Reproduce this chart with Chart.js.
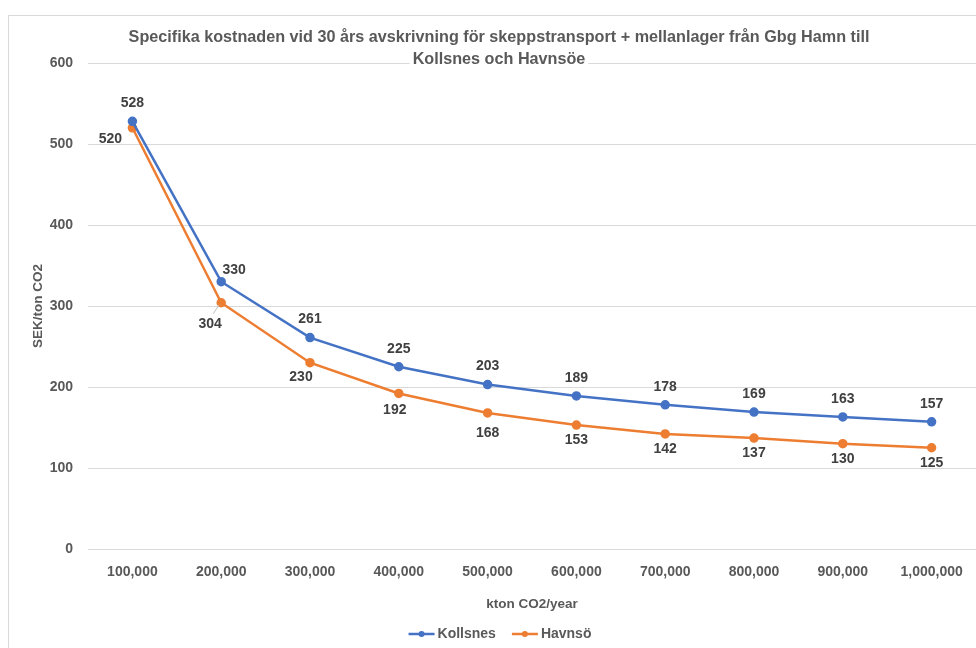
<!DOCTYPE html>
<html>
<head>
<meta charset="utf-8">
<script src="https://cdn.jsdelivr.net/npm/chart.js@4.4.1/dist/chart.umd.min.js"></script>
<style>
  html, body { margin: 0; padding: 0; background: #fff; }
  #wrap { position: relative; width: 976px; height: 648px; overflow: hidden; }
  #frame { position: absolute; left: 8px; top: 15px; right: -2px; bottom: -2px;
           border-top: 1px solid #d9d9d9; border-left: 1px solid #d9d9d9; }
  #cv { position: absolute; left: 0; top: 0; }
</style>
</head>
<body>
<div id="wrap">
  <div id="frame"></div>
  <canvas id="cv" width="976" height="648"></canvas>
</div>
<script>
// kostnad per ton vid olika volymer
const volymer = ['100,000', '200,000', '300,000', '400,000', '500,000', '600,000', '700,000', '800,000', '900,000', '1,000,000'];
const kollsnes = [528, 330, 261, 225, 203, 189, 178, 169, 163, 157];
const havnso = [520, 304, 230, 192, 168, 153, 142, 137, 130, 125];
const yTicks = [0, 100, 200, 300, 400, 500, 600];

const titelRader = ['Specifika kostnaden vid 30 års avskrivning för skeppstransport + mellanlager från Gbg Hamn till', 'Kollsnes och Havnsöe'];

const FONT = "'Liberation Sans', sans-serif";
const GRA = '#595959';

// titel ritas själv så att andra raden kan ligga över 600-linjen
const titelPlugin = {
    id: 'titel',
    afterDraw(chart) {
        const ctx = chart.ctx;
        ctx.save();
        ctx.font = 'bold 16.2px ' + FONT;
        ctx.textAlign = 'center';
        ctx.textBaseline = 'middle';
        const cx = 499;
        titelRader.forEach((rad, i) => {
            const y = 38 + i * 22;
            const w = ctx.measureText(rad).width;
            ctx.fillStyle = '#fff';
            ctx.fillRect(cx - w / 2 - 3, y - 9, w + 6, 18);
            ctx.fillStyle = GRA;
            ctx.fillText(rad, cx, y);
        });
        ctx.restore();
    }
};

// etiketter med värden vid punkterna
const etikettPlugin = {
    id: 'etiketter',
    afterDatasetsDraw(chart, args, opts) {
        const ctx = chart.ctx;
        ctx.save();
        ctx.font = 'bold 14px ' + FONT;
        ctx.fillStyle = '#404040';
        ctx.textAlign = 'center';
        ctx.textBaseline = 'middle';
        chart.data.datasets.forEach((ds, di) => {
            const meta = chart.getDatasetMeta(di);
            const pl = opts.placering[di];
            meta.data.forEach((pt, i) => {
                const o = Object.assign({ dx: 0, dy: pl.dy }, pl.undantag[i] || {});
                const x = pt.x + o.dx, y = pt.y + o.dy;
                if (o.linje) {
                    ctx.strokeStyle = '#bfbfbf';
                    ctx.lineWidth = 1;
                    ctx.beginPath();
                    ctx.moveTo(x + 3, y - 10);
                    ctx.lineTo(pt.x - 2, pt.y + 2);
                    ctx.stroke();
                }
                ctx.fillText(ds.data[i], x, y);
            });
        });
        ctx.restore();
    }
};

// teckenförklaring under axeltiteln
const legendPlugin = {
    id: 'forklaring',
    afterDraw(chart) {
        const ctx = chart.ctx;
        ctx.save();
        ctx.font = 'bold 14px ' + FONT;
        ctx.textBaseline = 'middle';
        const y = 634, linje = 26, gap = 3, mellan = 16;
        const items = chart.data.datasets.map(ds => ({ ds, w: ctx.measureText(ds.label).width }));
        let total = items.reduce((s, it) => s + linje + gap + it.w, 0) + mellan * (items.length - 1);
        let x = 500 - total / 2;
        items.forEach(it => {
            ctx.strokeStyle = it.ds.borderColor;
            ctx.lineWidth = 2.5;
            ctx.beginPath();
            ctx.moveTo(x, y);
            ctx.lineTo(x + linje, y);
            ctx.stroke();
            ctx.fillStyle = it.ds.borderColor;
            ctx.beginPath();
            ctx.arc(x + linje / 2, y, 3, 0, Math.PI * 2);
            ctx.fill();
            ctx.fillStyle = GRA;
            ctx.fillText(it.ds.label, x + linje + gap, y);
            x += linje + gap + it.w + mellan;
        });
        ctx.restore();
    }
};

new Chart(document.getElementById('cv'), {
    type: 'line',
    data: {
        labels: volymer,
        datasets: [{
            label: 'Kollsnes',
            data: kollsnes,
            borderColor: '#4472c4',
            backgroundColor: '#4472c4',
            borderWidth: 2.5,
            pointRadius: 3.5,
            tension: 0
        }, {
            label: 'Havnsö',
            data: havnso,
            borderColor: '#ed7d31',
            backgroundColor: '#ed7d31',
            borderWidth: 2.5,
            pointRadius: 3.5,
            tension: 0
        }]
    },
    options: {
        responsive: false,
        animation: false,
        layout: { autoPadding: false, padding: { top: 63, left: 0, right: 0, bottom: 31 } },
        plugins: {
            legend: { display: false },
            tooltip: { enabled: false },
            etiketter: {
                placering: [
                    { dy: -18, undantag: { 1: { dx: 13, dy: -12 } } },
                    { dy: 15, undantag: {
                        0: { dx: -22, dy: 11 },
                        1: { dx: -11, dy: 21, linje: true },
                        2: { dx: -9, dy: 14 },
                        3: { dx: -4, dy: 17 },
                        4: { dy: 20 }
                    } }
                ]
            }
        },
        scales: {
            x: {
                offset: true,
                grid: { display: false, drawTicks: false },
                border: { display: false },
                ticks: { color: GRA, font: { family: FONT, size: 14, weight: 'bold' }, padding: 15, maxRotation: 0 },
                title: { display: true, text: 'kton CO2/year', color: GRA, font: { family: FONT, size: 13.5, weight: 'bold' }, padding: { top: 0, bottom: 5 } },
                afterFit(scale) {
                    scale.height = 68;
                    scale.paddingLeft = 0;
                    scale.paddingRight = 0;
                }
            },
            y: {
                min: 0,
                max: 600,
                afterBuildTicks(scale) { scale.ticks = yTicks.map(v => ({ value: v })); },
                grid: { color: '#d9d9d9', drawTicks: false, lineWidth: 1 },
                border: { display: false },
                ticks: { color: GRA, font: { family: FONT, size: 14, weight: 'bold' }, padding: 15 },
                title: { display: true, text: 'SEK/ton CO2', color: GRA, font: { family: FONT, size: 13.5, weight: 'bold' }, padding: { top: 30, bottom: 0 } },
                afterFit(scale) {
                    scale.width = 88;
                    scale.paddingTop = 0;
                    scale.paddingBottom = 0;
                }
            }
        }
    },
    plugins: [titelPlugin, etikettPlugin, legendPlugin]
});
</script>
</body>
</html>
